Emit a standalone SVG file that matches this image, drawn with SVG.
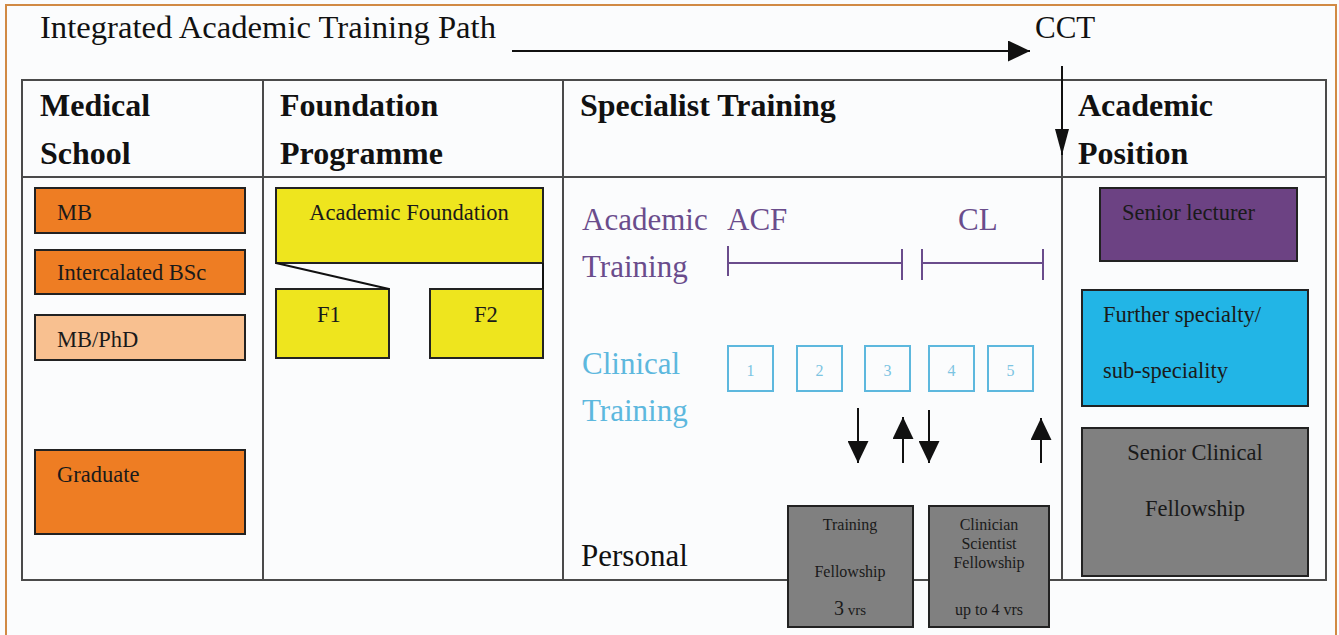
<svg xmlns="http://www.w3.org/2000/svg" width="1339" height="635" viewBox="0 0 1339 635">
<style>
text{font-family:"Liberation Serif","Times New Roman",serif;}
.hdr{font-size:32px;font-weight:bold;fill:#111;}
.lbl{font-size:22.5px;fill:#1a1a1a;}
.sm{font-size:16px;fill:#1a1a1a;}
.big{font-size:31px;}
.box{stroke:#222;stroke-width:2;}
.grid{stroke:#4a4a4a;stroke-width:2;fill:none;}
.conn{stroke:#111;stroke-width:2;fill:none;}
.pur{stroke:#6a4c8c;stroke-width:2;fill:none;}
.cbox{stroke:#5db8de;stroke-width:2;fill:none;}
</style>
<defs>
<marker id="ahBig" viewBox="0 0 10 10" refX="10" refY="5" markerWidth="22" markerHeight="21" markerUnits="userSpaceOnUse" orient="auto" preserveAspectRatio="none">
<path d="M0,0 L10,5 L0,10 z" fill="#111"/>
</marker>
<marker id="ahV" viewBox="0 0 10 10" refX="10" refY="5" markerWidth="26" markerHeight="14" markerUnits="userSpaceOnUse" orient="auto" preserveAspectRatio="none">
<path d="M0,0 L10,5 L0,10 z" fill="#111"/>
</marker>
</defs>
<rect x="0" y="0" width="1339" height="635" fill="#fbfcfd"/>
<path d="M6,635 V5 H1336 V635" fill="none" stroke="#d18a44" stroke-width="2"/>

<g id="title">
<text x="40" y="38" font-size="31" fill="#111" textLength="456" lengthAdjust="spacingAndGlyphs">Integrated Academic Training Path</text>
<text x="1035" y="38" font-size="31" fill="#111">CCT</text>
</g>

<g id="table">
<rect x="22" y="80" width="1304" height="500" class="grid"/>
<line x1="22" y1="177" x2="1326" y2="177" class="grid"/>
<line x1="263" y1="80" x2="263" y2="580" class="grid"/>
<line x1="563" y1="80" x2="563" y2="580" class="grid"/>
<line x1="1062" y1="80" x2="1062" y2="580" class="grid"/>
</g>

<g id="col-medical-school">
<text class="hdr" x="40" y="116">Medical</text>
<text class="hdr" x="40" y="164">School</text>
</g>
<g id="col-foundation">
<text class="hdr" x="280" y="116">Foundation</text>
<text class="hdr" x="280" y="164">Programme</text>
</g>
<g id="col-specialist">
<text class="hdr" x="580" y="116">Specialist Training</text>
</g>
<g id="col-academic-position">
<text class="hdr" x="1078" y="116">Academic</text>
<text class="hdr" x="1078" y="164">Position</text>
</g>

<g id="mb"><rect class="box" x="35" y="188" width="210" height="45" fill="#ee7d23"/><text class="lbl" x="57" y="220">MB</text></g>
<g id="bsc"><rect class="box" x="35" y="250" width="210" height="44" fill="#ee7d23"/><text class="lbl" x="57" y="280">Intercalated BSc</text></g>
<g id="mbphd"><rect class="box" x="35" y="315" width="210" height="45" fill="#f8c090"/><text class="lbl" x="57" y="347">MB/PhD</text></g>
<g id="graduate"><rect class="box" x="35" y="450" width="210" height="84" fill="#ee7d23"/><text class="lbl" x="57" y="482">Graduate</text></g>

<g id="academic-foundation"><rect class="box" x="276" y="188" width="267" height="75" fill="#eee51e"/><text class="lbl" x="409" y="220" text-anchor="middle">Academic Foundation</text></g>
<g id="f1"><rect class="box" x="276" y="289" width="113" height="69" fill="#eee51e"/><text class="lbl" x="329" y="322" text-anchor="middle">F1</text></g>
<g id="f2"><rect class="box" x="430" y="289" width="113" height="69" fill="#eee51e"/><text class="lbl" x="486" y="322" text-anchor="middle">F2</text></g>

<g id="academic-training">
<text class="big" x="582" y="230" fill="#6a4c8c">Academic</text>
<text class="big" x="582" y="277" fill="#6a4c8c">Training</text>
</g>
<g id="acf">
<text class="big" x="727" y="230" fill="#6a4c8c">ACF</text>
<path class="pur" d="M728,246 V276 M728,263 H902 M902,249 V280"/>
</g>
<g id="cl">
<text class="big" x="958" y="230" fill="#6a4c8c">CL</text>
<path class="pur" d="M922,249 V280 M922,263 H1043 M1043,249 V280"/>
</g>

<g id="clinical-training">
<text class="big" x="582" y="374" fill="#5db8de">Clinical</text>
<text class="big" x="582" y="421" fill="#5db8de">Training</text>
</g>
<g id="ct1"><rect class="cbox" x="728" y="346" width="45" height="45"/><text x="750.5" y="376" font-size="16" fill="#7cc4e2" text-anchor="middle">1</text></g>
<g id="ct2"><rect class="cbox" x="797" y="346" width="45" height="45"/><text x="819.5" y="376" font-size="16" fill="#7cc4e2" text-anchor="middle">2</text></g>
<g id="ct3"><rect class="cbox" x="865" y="346" width="45" height="45"/><text x="887.5" y="376" font-size="16" fill="#7cc4e2" text-anchor="middle">3</text></g>
<g id="ct4"><rect class="cbox" x="929" y="346" width="45" height="45"/><text x="951.5" y="376" font-size="16" fill="#7cc4e2" text-anchor="middle">4</text></g>
<g id="ct5"><rect class="cbox" x="988" y="346" width="45" height="45"/><text x="1010.5" y="376" font-size="16" fill="#7cc4e2" text-anchor="middle">5</text></g>

<g id="personal"><text class="big" x="581" y="566" fill="#111">Personal</text></g>

<g id="training-fellowship">
<rect class="box" x="788" y="506" width="125" height="121" fill="#808080"/>
<text class="sm" x="850" y="530" text-anchor="middle">Training</text>
<text class="sm" x="850" y="577" text-anchor="middle">Fellowship</text>
<text x="850" y="615" text-anchor="middle" fill="#1a1a1a"><tspan font-size="20">3</tspan><tspan font-size="15"> vrs</tspan></text>
</g>
<g id="clinician-scientist">
<rect class="box" x="929" y="506" width="120" height="121" fill="#808080"/>
<text class="sm" x="989" y="530" text-anchor="middle">Clinician</text>
<text class="sm" x="989" y="549" text-anchor="middle">Scientist</text>
<text class="sm" x="989" y="568" text-anchor="middle">Fellowship</text>
<text class="sm" x="989" y="615" text-anchor="middle">up to 4 vrs</text>
</g>

<g id="senior-lecturer"><rect class="box" x="1100" y="188" width="197" height="73" fill="#6c4283"/><text class="lbl" x="1122" y="220" fill="#2a1a35">Senior lecturer</text></g>
<g id="further-specialty"><rect class="box" x="1082" y="290" width="226" height="116" fill="#22b5e6"/><text class="lbl" x="1103" y="322">Further specialty/</text><text class="lbl" x="1103" y="378">sub-speciality</text></g>
<g id="senior-clinical"><rect class="box" x="1082" y="428" width="226" height="148" fill="#808080"/><text class="lbl" x="1195" y="460" text-anchor="middle">Senior Clinical</text><text class="lbl" x="1195" y="516" text-anchor="middle">Fellowship</text></g>

<g id="connectors">
<line class="conn" x1="512" y1="51" x2="1030" y2="51" marker-end="url(#ahBig)"/>
<line class="conn" x1="1062" y1="66" x2="1062" y2="155" marker-end="url(#ahV)"/>
<line class="conn" x1="276" y1="263" x2="389" y2="289"/>
<line class="conn" x1="543" y1="263" x2="543" y2="289"/>
<line class="conn" x1="858" y1="408" x2="858" y2="463" marker-end="url(#ahBig)"/>
<line class="conn" x1="903" y1="463" x2="903" y2="417" marker-end="url(#ahBig)"/>
<line class="conn" x1="929" y1="410" x2="929" y2="463" marker-end="url(#ahBig)"/>
<line class="conn" x1="1041" y1="463" x2="1041" y2="418" marker-end="url(#ahBig)"/>
</g>
</svg>
